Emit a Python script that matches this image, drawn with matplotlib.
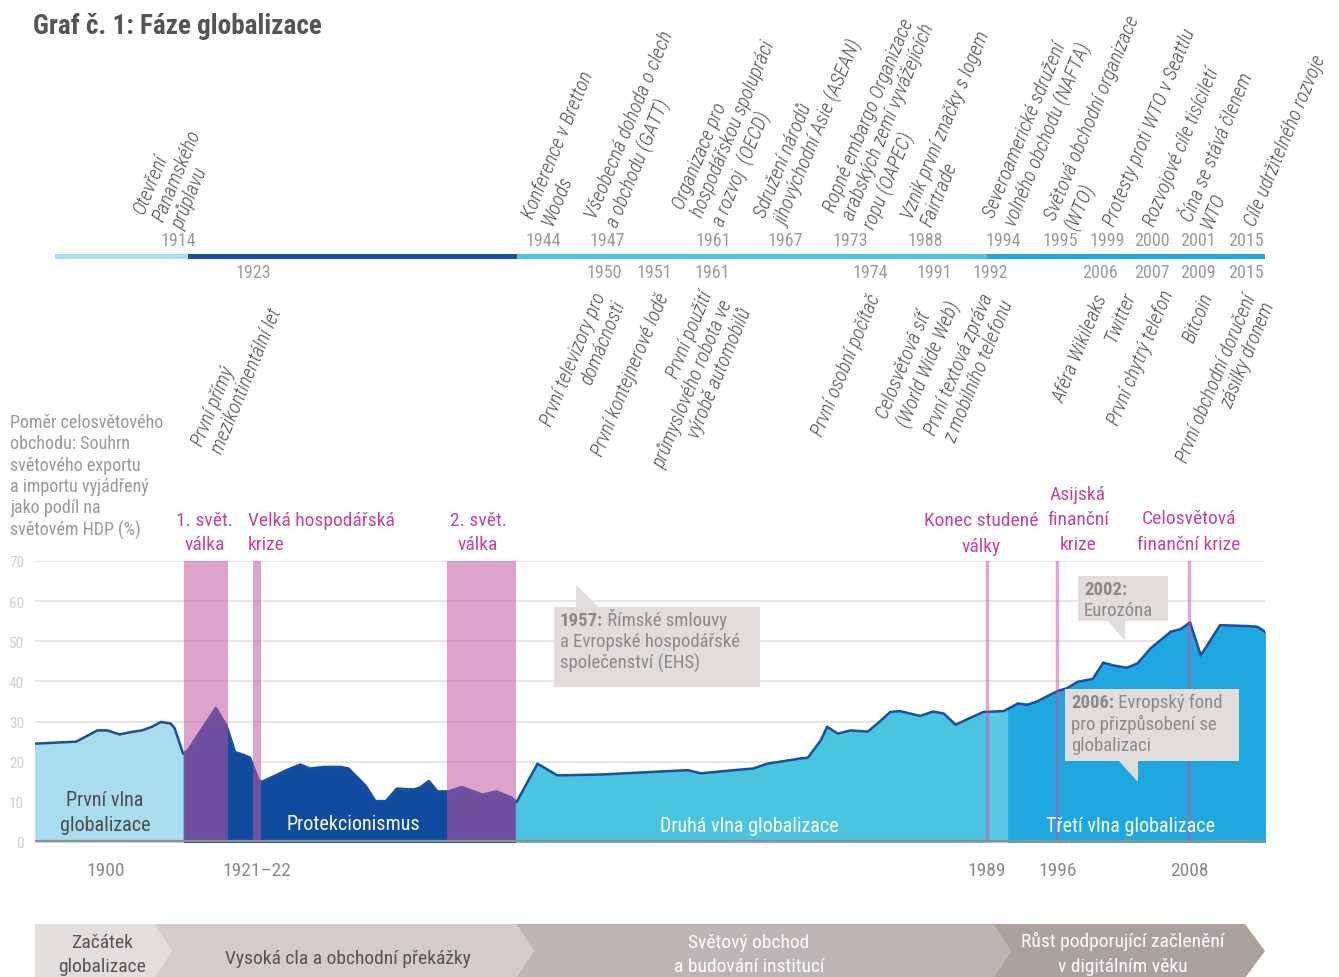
import matplotlib
matplotlib.use('Agg')
import matplotlib.pyplot as plt
from matplotlib import font_manager
from matplotlib.patches import Polygon, Rectangle
import numpy as np

# ---------------------------------------------------------------- data
years = [1887.3, 1894.7, 1898.5, 1900.3, 1902.5, 1904.6, 1906.5, 1908.3, 1909.9, 1911.7,
         1912.4, 1913.9, 1914.4, 1917.0, 1918.0, 1918.8, 1919.7, 1920.2, 1921.0, 1921.3,
         1922.6, 1923.6, 1924.9, 1925.8, 1927.1, 1928.7, 1929.4, 1931.0, 1931.9, 1932.9,
         1933.9, 1935.5, 1936.1, 1936.9, 1937.7, 1938.7, 1940.0, 1941.9, 1943.2, 1944.5,
         1945.1, 1947.05, 1948.9, 1952.9, 1961.1, 1962.3, 1965.4, 1967.2, 1968.5, 1971.6,
         1972.3, 1973.5, 1974.1, 1975.1, 1976.3, 1977.9, 1978.8, 1980.0, 1980.9, 1982.8,
         1984.0, 1985.0, 1986.1, 1987.2, 1988.7, 1990.6, 1991.9, 1992.8, 1993.7, 1995.6,
         1996.5, 1997.5, 1998.9, 1999.9, 2000.8, 2002.1, 2003.1, 2004.3, 2006.2, 2007.1,
         2008.0, 2009.0, 2010.8, 2013.4, 2014.3, 2015.0]
trade = [24.5, 25.0, 27.8, 27.8, 26.8, 27.4, 27.8, 28.7, 29.9, 29.5,
         28.3, 22.0, 22.9, 33.4, 29.0, 22.4, 21.6, 21.0, 15.4, 15.0,
         16.6, 17.9, 19.3, 18.3, 18.7, 18.7, 18.3, 14.0, 10.2, 10.2,
         13.3, 13.1, 13.6, 15.2, 12.6, 12.6, 13.7, 11.8, 12.6, 11.2,
         10.0, 19.5, 16.6, 16.8, 17.9, 17.1, 17.9, 18.3, 19.5, 20.8,
         21.0, 25.3, 28.7, 27.0, 27.8, 27.5, 29.5, 32.4, 32.6, 31.4,
         32.5, 32.0, 29.2, 30.6, 32.4, 32.6, 34.5, 34.2, 35.0, 37.6,
         38.3, 39.9, 40.6, 44.7, 44.0, 43.4, 44.5, 48.2, 52.4, 53.0,
         54.7, 46.5, 54.0, 53.8, 53.6, 52.4]

phase_bounds = [1887.3, 1914.0, 1945.0, 1989.0, 1991.0, 2015.0]
crisis_spans = [(1914.0, 1918.1), (1920.5, 1921.2), (1938.6, 1945.0)]
crisis_years = [1989, 1995.6, 2007.9]

xtick_years = [1900, 1920.8, 1989, 1995.6, 2007.9]
xtick_labels = ['1900', '1921–22', '1989', '1996', '2008']

top_years = ['1914', '1944', '1947', '1961', '1967', '1973', '1988',
             '1994', '1995', '1999', '2000', '2001', '2015']
top_events = ['Otevření\nPanamského\nprůplavu',
              'Konference v Bretton\nWoods',
              'Všeobecná dohoda o clech\na obchodu (GATT)',
              'Organizace pro\nhospodářskou spolupráci\na rozvoj  (OECD)',
              'Sdružení národů\njihovýchodní Asie (ASEAN)',
              'Ropné embargo Organizace\narabských zemí vyvážejících\nropu (OAPEC)',
              'Vznik první značky s logem\nFairtrade',
              'Severoamerické sdružení\nvolného obchodu (NAFTA)',
              'Světová obchodní organizace\n(WTO)',
              'Protesty proti WTO v Seattlu',
              'Rozvojové cíle tisíciletí',
              'Čína se stává členem\nWTO',
              'Cíle udržitelného rozvoje']

low_years = ['1923', '1950', '1951', '1961', '1974', '1991', '1992',
             '2006', '2007', '2009', '2015']
low_events = ['První přímý\nmezikontinentální let',
              'První televizory pro\ndomácnosti',
              'První kontejnerové lodě',
              'První použití\nprůmyslového robota ve\nvýrobě automobilů',
              'První osobní počítač',
              'Celosvětová síť\n(World Wide Web)',
              'První textová zpráva\nz mobilního telefonu',
              'Aféra Wikileaks',
              'Twitter',
              'První chytrý telefon',
              'Bitcoin',
              'První obchodní doručení\nzásilky dronem']

phase_names = ['První vlna\nglobalizace', 'Protekcionismus',
               'Druhá vlna globalizace', 'Třetí vlna globalizace']
era_names = ['Začátek\nglobalizace', 'Vysoká cla a obchodní překážky',
             'Světový obchod\na budování institucí',
             'Růst podporující začlenění\nv digitálním věku']
crisis_names = ['1. svět.\nválka', 'Velká hospodářská\nkrize', '2. svět.\nválka',
                'Konec studené\nválky', 'Asijská\nfinanční\nkrize',
                'Celosvětová\nfinanční krize']
callouts = [('1957:', ' Římské smlouvy', 'a Evropské hospodářské\nspolečenství (EHS)'),
            ('2002:', '', 'Eurozóna'),
            ('2006:', ' Evropský fond', 'pro přizpůsobení se\nglobalizaci')]

# ---------------------------------------------------------------- layout / style
W, H = 1339, 978
fill_colors = ['#a8dcee', '#0f4c9f', '#4bc4df', '#5ccae4', '#1fa8df']
PINK = '#c0539e'
PINK_TXT = '#c3449e'

timeline_px = [55, 188, 517, 987, 1265]
timeline_colors = ['#a9dff0', '#1650a2', '#4fc4e1', '#22a7e1']
top_year_x = [178, 543, 607, 713, 785, 850, 925, 1003, 1060, 1107, 1152, 1198, 1246]
top_anchor = [(186, 232), (556, 229), (621, 230), (727, 229), (790, 229), (878, 232),
              (935, 230), (1019, 229), (1080, 232), (1118, 229), (1158, 229), (1215, 232),
              (1259, 229)]
low_year_x = [253, 604, 654, 712, 870, 934, 990, 1100, 1152, 1198, 1246]
low_anchor = [(248, 298), (592, 290), (655, 291), (699, 289), (867, 292), (925, 290),
              (980, 290), (1094, 292), (1122, 290), (1160, 288), (1199, 290), (1242, 292)]
low_align = ['left', 'right', 'left', 'right', 'left', 'left', 'left',
             'left', 'left', 'left', 'left', 'right']

# font: prefer a narrow face, like the original
fonts = font_manager.fontManager.ttflist
narrow = [f.name for f in fonts if f.name in ('Liberation Sans Narrow', 'Roboto Condensed')]
if narrow:
    FAMILY, STRETCH, K = narrow[0], 'normal', 1.0
elif any(f.name == 'DejaVu Sans' and f.stretch == 'condensed' for f in fonts):
    FAMILY, STRETCH, K = 'DejaVu Sans', 'condensed', 0.95
else:
    FAMILY, STRETCH, K = 'Roboto', 'normal', 0.9
plt.rcParams['font.family'] = [FAMILY, 'DejaVu Sans']
plt.rcParams['font.stretch'] = STRETCH


def year_to_px(y):
    y = np.asarray(y, float)
    return np.where(y < 1914, 183 + (y - 1914) * 78 / 14, 183 + (y - 1914) * 1082 / 101)


def px_to_year(x):
    x = np.asarray(x, float)
    return np.where(x < 183, 1914 + (x - 183) * 14 / 78, 1914 + (x - 183) * 101 / 1082)


fig = plt.figure(figsize=(W / 100, H / 100), dpi=100)

# ---------------------------------------------------------------- area chart
ax = fig.add_axes([35 / W, 1 - 843 / H, 1230 / W, 281 / H])
ax.set_xscale('function', functions=(year_to_px, px_to_year))
ax.set_xlim(years[0], years[-1])
ax.set_ylim(0, 70)

for a, b, col in zip(phase_bounds[:-1], phase_bounds[1:], fill_colors):
    xs = [a] + [yr for yr in years if a < yr < b] + [b]
    ys = np.interp(xs, years, trade)
    ax.fill_between(xs, 0, ys, color=col, lw=0.6, ec=col, zorder=2)
ax.plot(years, trade, color='#1b4e9e', lw=1.8, zorder=3)

for a, b in crisis_spans:
    ax.axvspan(a, b, color=PINK, alpha=0.53, lw=0, zorder=4)
for yr in crisis_years:
    ax.axvline(yr, color=PINK, alpha=0.5, lw=2.5, zorder=4)

ax.axhline(0, color='#8f8f8f', lw=3, zorder=5)
ax.set_yticks(range(0, 80, 10))
ax.grid(axis='y', color='#e2e2e2', lw=1.2)
ax.set_axisbelow(True)
ax.set_xticks(xtick_years, xtick_labels)
ax.minorticks_off()
ax.tick_params(axis='y', length=0, labelcolor='#d0d0d0', labelsize=11 * K, pad=8)
ax.tick_params(axis='x', length=0, labelcolor='#8a8a8a', labelsize=14 * K, pad=14)
for s in ax.spines.values():
    s.set_visible(False)

# ---------------------------------------------------------------- overlay (pixel coords)
ov = fig.add_axes([0, 0, 1, 1])
ov.set_zorder(3)
ov.set_xlim(0, W)
ov.set_ylim(H, 0)
ov.axis('off')

ov.text(33, 27, 'Graf č. 1: Fáze globalizace', fontsize=19.5 * K, fontweight='bold',
        color='#555555', va='center', ha='left')

# timeline
for a, b, col in zip(timeline_px[:-1], timeline_px[1:], timeline_colors):
    ov.add_patch(Rectangle((a, 254.5), b - a, 5.5, color=col, lw=0))
for yr, x in zip(top_years, top_year_x):
    ov.text(x, 241, yr, ha='center', va='center', color='#9b9b9b', fontsize=13 * K)
for yr, x in zip(low_years, low_year_x):
    ov.text(x, 273, yr, ha='center', va='center', color='#9b9b9b', fontsize=13 * K)
for txt, (x, y) in zip(top_events, top_anchor):
    ov.text(x, y, txt, rotation=67.5, rotation_mode='anchor', ha='left', va='bottom',
            style='italic', fontweight='light', color='#505050', fontsize=14.3 * K,
            linespacing=1.12, multialignment='left')
for txt, (x, y), al in zip(low_events, low_anchor, low_align):
    ov.text(x, y, txt, rotation=67.5, rotation_mode='anchor', ha='right', va='top',
            style='italic', fontweight='light', color='#505050', fontsize=14.3 * K,
            linespacing=1.12, multialignment=al)

# y-axis caption
ov.text(10, 414, 'Poměr celosvětového\nobchodu: Souhrn\nsvětového exportu\n'
        'a importu vyjádřený\njako podíl na\nsvětovém HDP (%)',
        ha='left', va='top', color='#999999', fontsize=13 * K, linespacing=1.24)

# crisis labels
crisis_pos = [(205, 533, 'center'), (248, 533, 'left'), (478, 533, 'center'),
              (981, 534, 'center'), (1078, 520, 'center'), (1189, 532, 'center')]
for txt, (x, y, al) in zip(crisis_names, crisis_pos):
    ov.text(x, y, txt, ha=al, va='center', color=PINK_TXT, fontsize=14 * K,
            linespacing=1.5, multialignment='center' if al == 'center' else 'left')

# phase labels inside the area
phase_pos = [(105, 813, '#4d4d4d'), (353, 824, 'white'), (749, 826, 'white'), (1131, 826, 'white')]
for txt, (x, y, col) in zip(phase_names, phase_pos):
    ov.text(x, y, txt, ha='center', va='center', color=col, fontsize=14.5 * K, linespacing=1.45)

# callout boxes
BOX = '#e2dddb'
boxes = [(554, 608, 206, 80), (1078, 577, 90, 45), (1065, 690, 174, 72)]
pointers = [[(576, 586), (576, 609), (600, 609)],
            [(1107, 621), (1125, 621), (1125, 642)],
            [(1118, 761), (1138, 761), (1138, 783)]]
for (x, y, w, h), tri, (bold, first, rest) in zip(boxes, pointers, callouts):
    ov.add_patch(Rectangle((x, y), w, h, color=BOX, lw=0))
    ov.add_patch(Polygon(tri, closed=True, color=BOX, lw=0))
    t = ov.text(x + 6, y + 4, bold, ha='left', va='top', color='#8a8a8a',
                fontsize=13.5 * K, fontweight='bold')
    if first:
        ov.annotate(first, xy=(1, 0), xycoords=t, ha='left', va='bottom',
                    color='#8a8a8a', fontsize=13.5 * K)
    ov.text(x + 6, y + 25, rest, ha='left', va='top', color='#8a8a8a',
            fontsize=13.5 * K, linespacing=1.22)

# bottom era arrows
era_shapes = [[(35, 925), (154, 925), (172, 952), (154, 979), (35, 979)],
              [(154, 925), (516, 925), (534, 952), (516, 979), (154, 979), (172, 952)],
              [(516, 925), (993, 925), (1011, 952), (993, 979), (516, 979), (534, 952)],
              [(993, 925), (1245, 925), (1265, 952), (1245, 979), (993, 979), (1011, 952)]]
era_colors = ['#e3dedc', '#d3ccc9', '#bdb5b2', '#aba19d']
era_text = [(102, 955, '#555555'), (348, 959, '#555555'), (749, 955, 'white'), (1123, 954, 'white')]
for pts, col, (x, y, tc), txt in zip(era_shapes, era_colors, era_text, era_names):
    ov.add_patch(Polygon(pts, closed=True, color=col, lw=0))
    ov.text(x, y, txt, ha='center', va='center', color=tc, fontsize=14 * K, linespacing=1.45)

fig.savefig('out.png', dpi=100)
